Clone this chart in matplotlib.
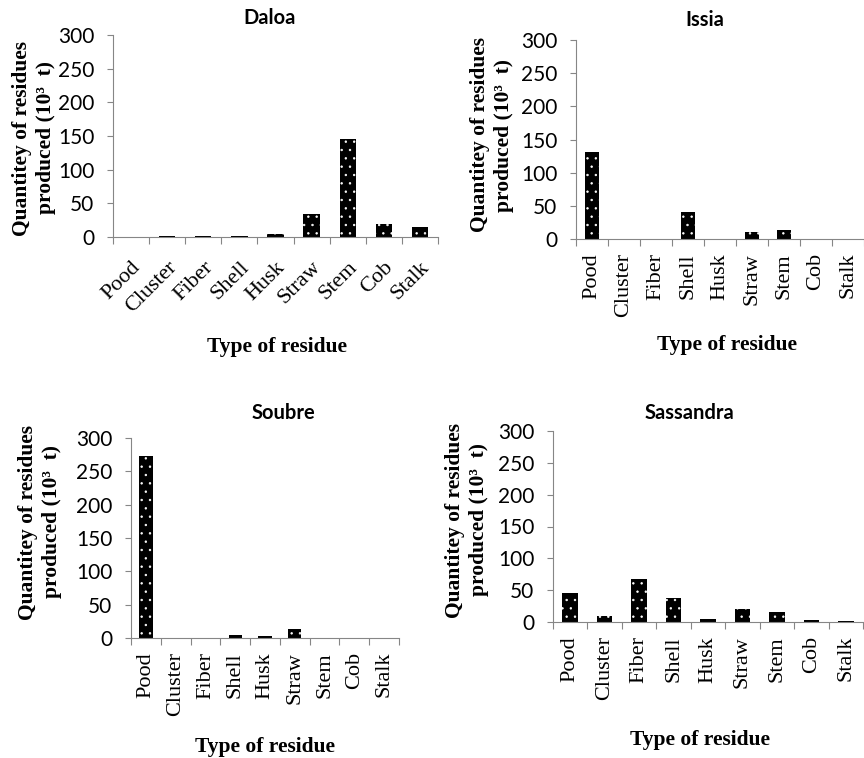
import numpy as np
import matplotlib
matplotlib.use("Agg")
import matplotlib.pyplot as plt

# residue types (same order in every panel)
residues = ['Pood', 'Cluster', 'Fiber', 'Shell', 'Husk', 'Straw', 'Stem', 'Cob', 'Stalk']

# quantities in 10^3 t
daloa = [0.5, 1.5, 1, 1.5, 5, 34, 146, 20, 15]
issia = [131, 0, 0, 41, 0.5, 10, 13, 0.5, 0]
soubre = [273, 0, 0, 5, 3, 14, 0, 0, 0]
sassandra = [46, 10, 68, 38, 4, 21, 16, 2.5, 2]

yticks = [0, 50, 100, 150, 200, 250, 300]

W, H = 864, 758
fig = plt.figure(figsize=(W / 100, H / 100), dpi=100)

SERIF = 'Liberation Serif'
SANS = 'Lato'
GREY = '#868686'
plt.rcParams['hatch.linewidth'] = 0.5


def px(x, y):
    # pixel coords (from top-left) -> figure fraction
    return x / W, 1 - y / H


def panel(rect, vals, title, title_xy, xlabel_xy, ylabel_xy, rot):
    l, t, r, b = rect
    ax = fig.add_axes([l / W, 1 - b / H, (r - l) / W, (b - t) / H])
    x = np.arange(len(residues))
    ax.bar(x, vals, width=0.45, color='black', edgecolor='white', hatch='..', linewidth=0)

    ax.set_ylim(0, 300)
    ax.set_xlim(-0.5, len(residues) - 0.5)
    ax.set_yticks(yticks)
    ax.set_yticklabels([str(v) for v in yticks], family=SANS, fontsize=15)

    # boundaries as major ticks, labels at centers
    ax.set_xticks(np.arange(-0.5, len(residues), 1))
    ax.set_xticklabels([])
    ax.set_xticks(x, minor=True)
    if rot == 45:
        ax.set_xticklabels(residues, minor=True, rotation=45, ha='right',
                           rotation_mode='anchor', family=SERIF, fontsize=16)
        ax.tick_params(axis='x', which='minor', length=0, pad=15)
    else:
        ax.set_xticklabels(residues, minor=True, rotation=90, ha='center',
                           va='top', family=SERIF, fontsize=16)
        ax.tick_params(axis='x', which='minor', length=0, pad=10)
    ax.tick_params(axis='x', which='major', length=5, color=GREY, width=0.8)
    ax.tick_params(axis='y', length=4.5, color=GREY, width=0.8, pad=9)

    for s in ['top', 'right']:
        ax.spines[s].set_visible(False)
    for s in ['left', 'bottom']:
        ax.spines[s].set_color(GREY)
        ax.spines[s].set_linewidth(0.8)

    fig.text(*px(*title_xy), title, ha='center', va='center',
             family=SANS, fontweight='bold', fontsize=14.5)
    fig.text(*px(*xlabel_xy), 'Type of residue', ha='center', va='center',
             family=SERIF, fontweight='bold', fontsize=15.5)
    fig.text(*px(*ylabel_xy), 'Quantitey of residues\nproduced (10³  t)',
             ha='center', va='center', rotation=90, multialignment='center',
             family=SERIF, fontweight='bold', fontsize=15.5, linespacing=1.25)
    return ax


panel((113, 35, 438, 237), daloa, 'Daloa', (270, 18), (277, 347), (34, 138), 45)
panel((576, 40, 864, 239), issia, 'Issia', (705, 20), (727, 345), (492, 135), 90)
panel((131, 438, 399, 638), soubre, 'Soubre', (283, 413), (265, 747), (40, 522), 90)
panel((553, 431, 863, 622), sassandra, 'Sassandra', (689, 413), (700, 740), (467, 520), 90)

fig.savefig('out.png', dpi=100)
